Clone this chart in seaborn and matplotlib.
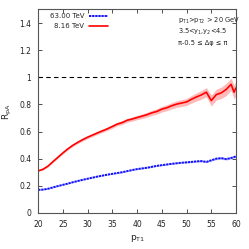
import numpy as np
import pandas as pd
import matplotlib
matplotlib.use("Agg")
import matplotlib.pyplot as plt
import seaborn as sns

pt_red = [20, 21, 22, 23, 24, 25, 26, 27, 28, 29, 30, 31, 32, 33, 34, 35, 36, 37, 38, 39,
          40, 41, 42, 43, 44, 45, 46, 47, 48, 49, 50, 51, 52, 53, 54, 55, 56, 57, 58, 59, 59.6, 60]
r_red = [0.310, 0.322, 0.345, 0.378, 0.410, 0.442, 0.472, 0.498, 0.520, 0.540, 0.558, 0.574,
         0.590, 0.605, 0.620, 0.637, 0.655, 0.666, 0.683, 0.692, 0.703, 0.713, 0.724, 0.738,
         0.748, 0.765, 0.775, 0.790, 0.802, 0.810, 0.818, 0.838, 0.855, 0.870, 0.890, 0.828,
         0.872, 0.885, 0.910, 0.948, 0.890, 0.922]
e_red = [0.006, 0.006, 0.006, 0.007, 0.007, 0.008, 0.008, 0.009, 0.009, 0.010, 0.010, 0.011,
         0.011, 0.012, 0.012, 0.013, 0.013, 0.014, 0.014, 0.015, 0.016, 0.017, 0.018, 0.019,
         0.020, 0.021, 0.022, 0.023, 0.024, 0.025, 0.026, 0.028, 0.030, 0.032, 0.034, 0.040,
         0.040, 0.042, 0.045, 0.045, 0.050, 0.055]

pt_blue = list(range(20, 61))
r_blue = [0.170, 0.172, 0.178, 0.188, 0.198, 0.207, 0.216, 0.226, 0.235, 0.244, 0.252, 0.260,
          0.268, 0.275, 0.282, 0.288, 0.294, 0.300, 0.308, 0.316, 0.323, 0.328, 0.333, 0.340,
          0.347, 0.352, 0.357, 0.362, 0.366, 0.370, 0.373, 0.376, 0.380, 0.382, 0.376, 0.388,
          0.400, 0.404, 0.397, 0.405, 0.417]
e_blue = [0.003] * 20 + [0.004] * 10 + [0.006] * 6 + [0.008] * 5

labels = ["63.00 TeV", "8.16 TeV"]

sns.set_theme(style="ticks")
plt.rcParams["font.family"] = ["DejaVu Sans"]

fig = plt.figure(figsize=(2.49, 2.49), dpi=100)
ax = fig.add_axes([0.153, 0.145, 0.795, 0.817])

df_b = pd.DataFrame({"pT": pt_blue, "R": r_blue})
df_r = pd.DataFrame({"pT": pt_red, "R": r_red})

ax.fill_between(pt_blue, np.array(r_blue) - np.array(e_blue), np.array(r_blue) + np.array(e_blue),
                color="#8080ff", alpha=0.45, lw=0)
ax.fill_between(pt_red, np.array(r_red) - np.array(e_red), np.array(r_red) + np.array(e_red),
                color="#ff8080", alpha=0.55, lw=0)
sns.lineplot(data=df_b, x="pT", y="R", ax=ax, color="#1010ff", lw=1.4,
             linestyle=(0, (1.2, 0.4)), label=labels[0])
sns.lineplot(data=df_r, x="pT", y="R", ax=ax, color="#ff0000", lw=1.2, label=labels[1])

ax.axhline(1.0, color="black", lw=0.8, ls=(0, (4, 3)))

ax.set_xlim(20, 60)
ax.set_ylim(0, 1.5)
ax.set_xticks(np.arange(20, 61, 5))
ax.set_yticks([0, 0.2, 0.4, 0.6, 0.8, 1.0, 1.2, 1.4])
ax.set_yticklabels(["0", "0.2", "0.4", "0.6", "0.8", "1", "1.2", "1.4"])
ax.tick_params(direction="in", top=True, right=True, labelsize=5.5, length=3, width=0.6,
               colors="#333333", labelcolor="#222222", pad=5)
for s in ax.spines.values():
    s.set_linewidth(0.8)
    s.set_color("#555555")

ax.set_xlabel(r"p$_{\rm T1}$", fontsize=6.5, labelpad=3)
ax.set_ylabel(r"R$_{\rm pA}$", fontsize=6.5, labelpad=3)
ax.yaxis.set_label_coords(-0.12, 0.5)

leg = ax.legend(loc="upper left", bbox_to_anchor=(0.035, 1.005), frameon=False, fontsize=5.0,
                markerfirst=False, handlelength=2.8, handletextpad=0.6, labelspacing=0.55,
                borderaxespad=0.3)

txt = [r"p$_{\rm T1}$>p$_{\rm T2}$ > 20 GeV",
       r"3.5<y$_1$,y$_2$<4.5",
       r"π-0.5 ≤ Δφ ≤ π"]
ypos = [0.946, 0.890, 0.835]
for t, yy in zip(txt, ypos):
    ax.text(0.705, yy, t, transform=ax.transAxes, fontsize=4.8,
            va="center", ha="left", color="#222222")

fig.savefig("out.png", dpi=100)
